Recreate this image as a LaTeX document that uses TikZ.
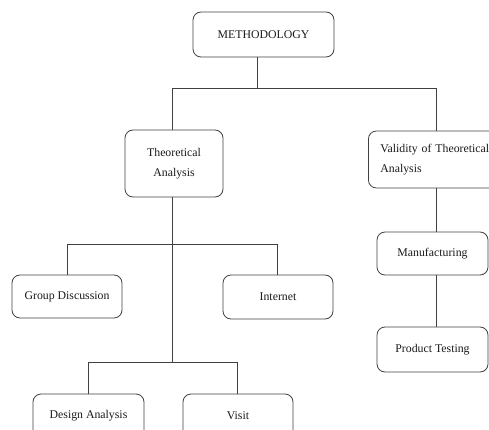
\documentclass[tikz,border=0pt]{standalone}
\usepackage{fontspec}
\setmainfont{Liberation Serif}
\begin{document}
\begin{tikzpicture}[x=1pt,y=-1pt,
  box/.style={draw=black!75, line width=0.8pt, rounded corners=8pt, inner sep=0pt,
    font=\fontsize{11.8}{20}\selectfont, text=black!90, align=center},
  link/.style={draw=black!75, line width=0.8pt}]
\useasboundingbox (0,0) rectangle (489,430);
% nodes
\node[box, minimum width=141pt, minimum height=45pt] (meth) at (263.5,34.5) {METHODOLOGY};
\node[box, minimum width=98pt, minimum height=67pt] (theo) at (174,163.5) {Theoretical\\Analysis};
\node[box, anchor=west, minimum height=57pt, inner xsep=12pt, text width=116pt, align=left] (valid) at (368,159.5) {Validity of Theoretical\\Analysis};
\node[box, minimum width=111pt, minimum height=43pt] (manu) at (432.5,253.5) {Manufacturing};
\node[box, minimum width=111pt, minimum height=45pt] (prod) at (432.5,349.5) {Product Testing};
\node[box, minimum width=110pt, minimum height=43pt] (group) at (67,296.5) {Group Discussion};
\node[box, minimum width=110pt, minimum height=44pt] (internet) at (278,297) {Internet};
\node[box, minimum width=111pt, minimum height=44pt] (design) at (88.5,416) {Design Analysis};
\node[box, minimum width=110pt, minimum height=44pt] (visit) at (238,416) {Visit};
% junctions
\coordinate (mj) at (257,88);
\coordinate (tL) at (172,88);
\coordinate (tR) at (436,88);
\coordinate (gL) at (67,244);
\coordinate (gR) at (277,244);
\coordinate (dj) at (172,362);
\coordinate (dL) at (88,362);
\coordinate (dR) at (237,362);
% connectors
\draw[link] (meth.south -| mj) -- (mj);
\draw[link] (theo.north -| tL) -- (tL) -- (tR) -- (valid.north -| tR);
\draw[link] (theo.south -| dj) -- (dj);
\draw[link] (group.north -| gL) -- (gL) -- (gR) -- (internet.north -| gR);
\draw[link] (design.north -| dL) -- (dL) -- (dR) -- (visit.north -| dR);
\draw[link] (valid.south -| tR) -- (manu.north -| tR);
\draw[link] (manu.south -| tR) -- (prod.north -| tR);
\end{tikzpicture}
\end{document}
